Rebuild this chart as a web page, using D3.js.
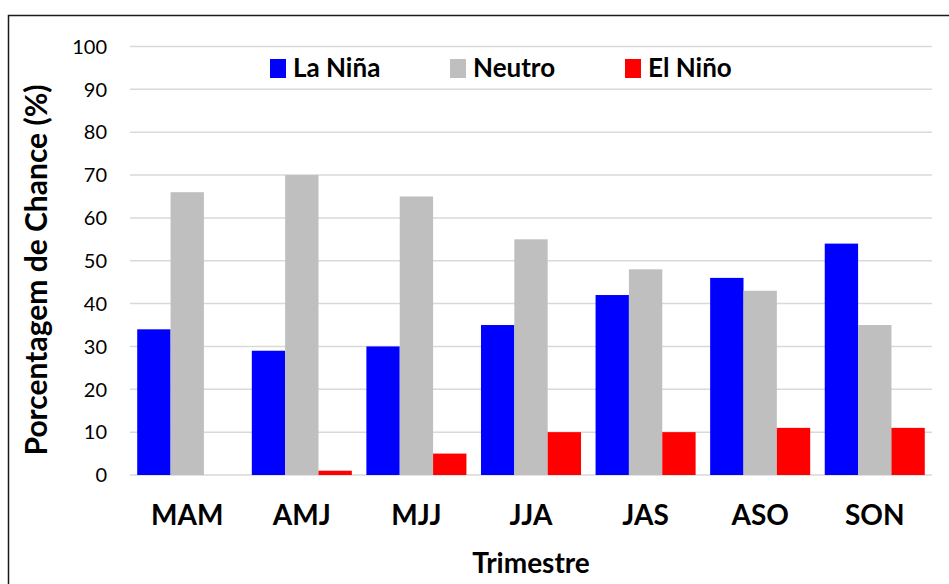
<!DOCTYPE html>
<html>
<head>
<meta charset="utf-8">
<script src="https://cdn.jsdelivr.net/npm/d3@7"></script>
<style>
  body { margin: 0; background: #fff; }
  text { font-family: Lato, "Open Sans", sans-serif; }
</style>
</head>
<body>
<div id="chart"></div>
<script>
var trimestres = ["MAM", "AMJ", "MJJ", "JJA", "JAS", "ASO", "SON"];
var series = ["La Niña", "Neutro", "El Niño"];
var laNina = [34, 29, 30, 35, 42, 46, 54];
var neutro = [66, 70, 65, 55, 48, 43, 35];
var elNino = [0, 1, 5, 10, 10, 11, 11];
var yTicks = [0, 10, 20, 30, 40, 50, 60, 70, 80, 90, 100];
var colors = ["#0000FF", "#BFBFBF", "#FF0000"];

var w = 949, h = 584;
var margin = {top: 46.5, right: 17, bottom: 109, left: 130};

var svg = d3.select("#chart").append("svg")
    .attr("width", w)
    .attr("height", h);

// outer frame (right and bottom edges fall outside the picture)
svg.append("rect")
    .attr("x", 8.5).attr("y", 15.5)
    .attr("width", 960).attr("height", 600)
    .attr("fill", "none")
    .attr("stroke", "#1a1a1a")
    .attr("stroke-width", 1.5);

var innerW = w - margin.left - margin.right,
    innerH = h - margin.top - margin.bottom;

var g = svg.append("g")
    .attr("transform", "translate(" + margin.left + "," + margin.top + ")");

var x = d3.scaleBand().domain(trimestres).range([0, innerW]).paddingInner(0.127).paddingOuter(0.063);
var xs = d3.scaleBand().domain(series).range([0, x.bandwidth()]);
var y = d3.scaleLinear().domain([0, 100]).range([innerH, 0]);

// grid
g.selectAll(".grid").data(yTicks).enter().append("line")
    .attr("x1", 0).attr("x2", innerW)
    .attr("y1", function(d) { return y(d); })
    .attr("y2", function(d) { return y(d); })
    .attr("stroke", "#D9D9D9")
    .attr("stroke-width", 1.5);

// y tick labels
g.selectAll(".ytick").data(yTicks).enter().append("text")
    .attr("x", -23)
    .attr("y", function(d) { return y(d); })
    .attr("dy", "0.36em")
    .attr("text-anchor", "end")
    .style("font-size", "20px")
    .attr("fill", "#000")
    .text(function(d) { return d; });

var rows = trimestres.map(function(t, i) {
  return {t: t, values: [laNina[i], neutro[i], elNino[i]]};
});

var groups = g.selectAll(".grp").data(rows).enter().append("g")
    .attr("transform", function(d) { return "translate(" + x(d.t) + ",0)"; });

groups.selectAll("rect").data(function(d) {
    return d.values.map(function(v, j) { return {s: series[j], v: v, c: colors[j]}; });
  }).enter().append("rect")
    .attr("x", function(d) { return xs(d.s); })
    .attr("width", xs.bandwidth())
    .attr("y", function(d) { return y(d.v); })
    .attr("height", function(d) { return y(0) - y(d.v); })
    .attr("fill", function(d) { return d.c; });

// x labels
g.selectAll(".xlab").data(trimestres).enter().append("text")
    .attr("x", function(d) { return x(d) + x.bandwidth() / 2; })
    .attr("y", innerH + 50)
    .attr("text-anchor", "middle")
    .style("font-size", "28px")
    .style("font-weight", "bold")
    .text(function(d) { return d; });

// axis titles
g.append("text")
    .attr("x", innerW / 2)
    .attr("y", innerH + 98)
    .attr("text-anchor", "middle")
    .style("font-size", "28px")
    .style("font-weight", "bold")
    .text("Trimestre");

svg.append("text")
    .attr("transform", "translate(47,270)rotate(-90)")
    .attr("text-anchor", "middle")
    .style("font-size", "30px")
    .style("font-weight", "bold")
    .text("Porcentagem de Chance (%)");

// legend
var legendX = [140, 320, 495];
var legend = g.selectAll(".leg").data(series).enter().append("g")
    .attr("transform", function(d, i) { return "translate(" + legendX[i] + "," + 12.5 + ")"; });

legend.append("rect")
    .attr("width", 16).attr("height", 19)
    .attr("fill", function(d, i) { return colors[i]; });

legend.append("text")
    .attr("x", 23)
    .attr("y", 18)
    .style("font-size", "26px")
    .style("font-weight", "bold")
    .text(function(d) { return d; });
</script>
</body>
</html>
